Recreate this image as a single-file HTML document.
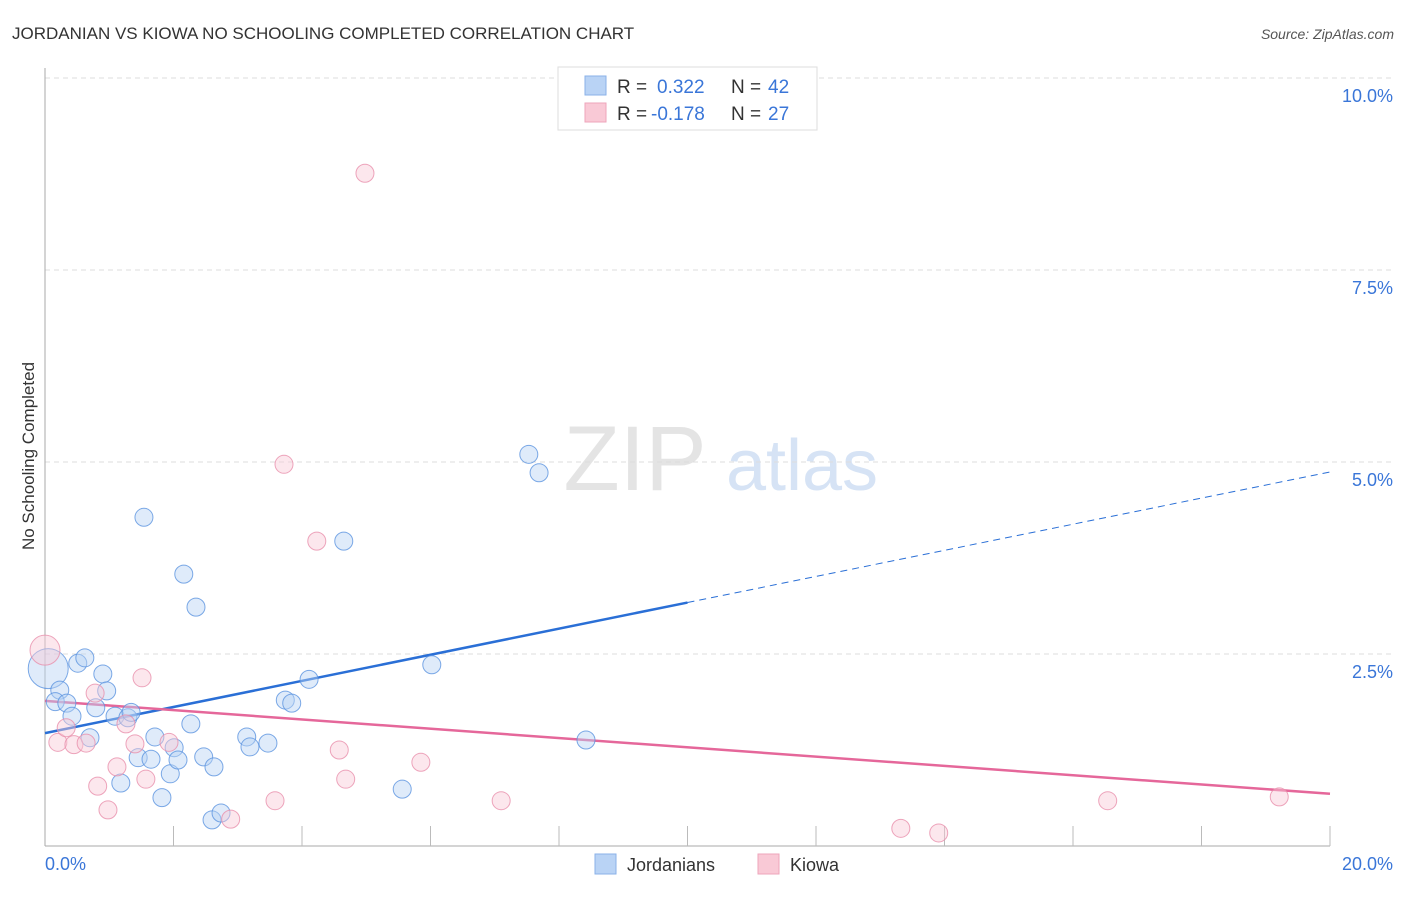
<!DOCTYPE html>
<html><head><meta charset="utf-8"><style>
body{margin:0;background:#fff;font-family:"Liberation Sans",sans-serif;}
svg text{font-family:"Liberation Sans",sans-serif;}
</style></head><body>
<svg id="c" width="1406" height="892" xmlns="http://www.w3.org/2000/svg">
<text x="12" y="39" font-size="17" fill="#333">JORDANIAN VS KIOWA NO SCHOOLING COMPLETED CORRELATION CHART</text>
<text x="1394" y="39" font-size="14" fill="#555" font-style="italic" text-anchor="end">Source: ZipAtlas.com</text>
<text x="34" y="456" font-size="17" fill="#333" text-anchor="middle" transform="rotate(-90 34 456)">No Schooling Completed</text>
<g>
<text x="635" y="490" font-size="92" fill="#e4e4e4" font-family="Liberation Serif" text-anchor="middle">ZIP</text>
<text x="802" y="490" font-size="72" fill="#d6e3f5" text-anchor="middle">atlas</text>
</g>
<g id="grid"></g><g id="axes"></g><g id="lines"></g><g id="pts"></g>
<g>
<rect x="558" y="67" width="259" height="63" fill="#fff" stroke="#ddd"/>
<rect x="585" y="76" width="21" height="19" fill="#b9d3f5" stroke="#8ab2e8"/>
<rect x="585" y="103" width="21" height="19" fill="#f9c9d6" stroke="#eea5bb"/>
<text x="617" y="93" font-size="19" fill="#333">R = </text><text x="657" y="93" font-size="19" fill="#3a76d8">0.322</text>
<text x="731" y="93" font-size="19" fill="#333">N = </text><text x="768" y="93" font-size="19" fill="#3a76d8">42</text>
<text x="617" y="120" font-size="19" fill="#333">R = </text><text x="651" y="120" font-size="19" fill="#3a76d8">-0.178</text>
<text x="731" y="120" font-size="19" fill="#333">N = </text><text x="768" y="120" font-size="19" fill="#3a76d8">27</text>
</g>
<g>
<rect x="595" y="854" width="21" height="20" fill="#b9d3f5" stroke="#8ab2e8"/>
<text x="627" y="871" font-size="18" fill="#333">Jordanians</text>
<rect x="758" y="854" width="21" height="20" fill="#f9c9d6" stroke="#eea5bb"/>
<text x="790" y="871" font-size="18" fill="#333">Kiowa</text>
</g>
</svg>
<script>
const yTicks=[2.5,5.0,7.5,10.0];
const yTickLabels=["2.5%","5.0%","7.5%","10.0%"];
const xTicks=[0,2,4,6,8,10,12,14,16,18,20];
const blueX=[0.05,0.23,0.16,0.34,0.42,0.51,0.62,0.79,0.90,0.96,0.70,1.09,1.29,1.34,1.18,1.45,1.54,1.65,1.71,1.82,1.95,2.01,2.07,2.16,2.27,2.35,2.47,2.63,2.60,2.74,3.14,3.19,3.47,3.74,3.84,4.11,4.65,5.56,6.02,7.53,7.69,8.42];
const blueY=[2.31,2.03,1.88,1.86,1.69,2.38,2.45,1.80,2.24,2.02,1.41,1.69,1.67,1.74,0.82,1.15,4.28,1.13,1.42,0.63,0.94,1.28,1.12,3.54,1.59,3.11,1.16,1.03,0.34,0.43,1.42,1.29,1.34,1.90,1.86,2.17,3.97,0.74,2.36,5.10,4.86,1.38];
const pinkX=[0.0,0.20,0.33,0.45,0.64,0.78,0.82,0.98,1.12,1.26,1.40,1.51,1.57,1.93,2.89,3.58,3.72,4.23,4.58,4.68,4.98,5.85,7.10,13.32,13.91,16.54,19.21];
const pinkY=[2.55,1.35,1.54,1.32,1.34,1.99,0.78,0.47,1.03,1.59,1.33,2.19,0.87,1.35,0.35,0.59,4.97,3.97,1.25,0.87,8.76,1.09,0.59,0.23,0.17,0.59,0.64];
const blueTrend=[1.47,4.87]; const blueSolidEnd=10;
const pinkTrend=[1.89,0.68];
const NS="http://www.w3.org/2000/svg";
const X=v=>45+v*64.25, Y=v=>846-v*76.8;
function mk(tag,attrs,parent){const e=document.createElementNS(NS,tag);for(const k in attrs)e.setAttribute(k,attrs[k]);document.getElementById(parent).appendChild(e);return e;}
yTicks.forEach((t,i)=>{
 const g=mk('line',{x1:45,x2:1394,y1:Y(t),y2:Y(t),stroke:'#ddd','stroke-dasharray':'5,4'},'grid');
 
 
 const l=mk('text',{x:1393,y:Y(t)+24,'font-size':18,fill:'#3a76d8','text-anchor':'end'},'grid');
 l.textContent=yTickLabels[i];
 
 
});
let a=mk('line',{x1:45,x2:45,y1:68,y2:846,stroke:'#aaa'},'axes');


a=mk('line',{x1:45,x2:1330,y1:846,y2:846,stroke:'#aaa'},'axes');


xTicks.forEach(t=>{if(t===0)return;const k=mk('line',{x1:X(t),x2:X(t),y1:826,y2:846,stroke:'#bbb'},'axes');
 
 });
let t=mk('text',{x:45,y:870,'font-size':18,fill:'#3a76d8'},'axes');t.textContent='0.0%';


t=mk('text',{x:1393,y:870,'font-size':18,fill:'#3a76d8','text-anchor':'end'},'axes');t.textContent='20.0%';


function pts(xs,ys,fill,stroke,name,bigR){xs.forEach((x,i)=>{const c=mk('circle',{cx:X(x),cy:Y(ys[i]),r:i===0?bigR:9,fill:fill,'fill-opacity':0.45,stroke:stroke,'stroke-opacity':0.8,'stroke-width':1},'pts');
 
 });}
pts(blueX,blueY,'#b9d3f5','#5b93e0','jordanian-point',20);
pts(pinkX,pinkY,'#f9c9d6','#e98fab','kiowa-point',15);
const bm=blueTrend[0]+(blueTrend[1]-blueTrend[0])*blueSolidEnd/20;
let ln=mk('line',{x1:X(0),y1:Y(blueTrend[0]),x2:X(blueSolidEnd),y2:Y(bm),stroke:'#2a6fd6','stroke-width':2.5},'lines');


ln=mk('line',{x1:X(blueSolidEnd),y1:Y(bm),x2:X(20),y2:Y(blueTrend[1]),stroke:'#2a6fd6','stroke-width':1,'stroke-dasharray':'7,5'},'lines');


ln=mk('line',{x1:X(0),y1:Y(pinkTrend[0]),x2:X(20),y2:Y(pinkTrend[1]),stroke:'#e5679a','stroke-width':2.5},'lines');


</script>
</body></html>
